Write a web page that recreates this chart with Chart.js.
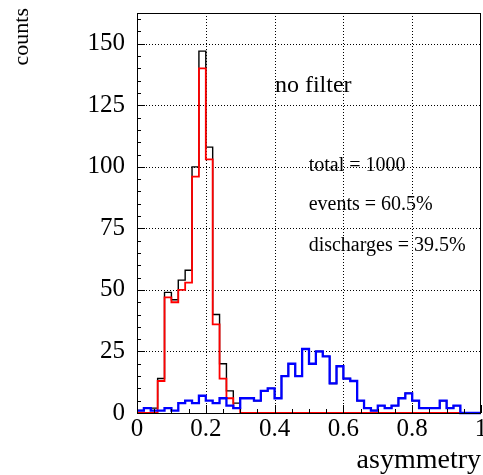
<!DOCTYPE html>
<html>
<head>
<meta charset="utf-8">
<script src="https://cdn.jsdelivr.net/npm/chart.js@4"></script>
<style>
  html, body { margin: 0; padding: 0; background: #fff; }
  #wrap { width: 483px; height: 475px; }
</style>
</head>
<body>
<div id="wrap"><canvas id="myChart"></canvas></div>
<script>
// bin edges of the asymmetry histogram (50 bins)
const binEdges = [
  0.00, 0.02, 0.04, 0.06, 0.08, 0.10, 0.12, 0.14, 0.16, 0.18,
  0.20, 0.22, 0.24, 0.26, 0.28, 0.30, 0.32, 0.34, 0.36, 0.38,
  0.40, 0.42, 0.44, 0.46, 0.48, 0.50, 0.52, 0.54, 0.56, 0.58,
  0.60, 0.62, 0.64, 0.66, 0.68, 0.70, 0.72, 0.74, 0.76, 0.78,
  0.80, 0.82, 0.84, 0.86, 0.88, 0.90, 0.92, 0.94, 0.96, 0.98, 1.00,
];
const totalCounts = [
  1, 2, 2, 14, 49, 46, 54, 58, 100, 147,
  108, 40, 20, 9, 4, 6, 6, 5, 9, 10,
  6, 15, 20, 15, 26, 20, 25, 23, 12, 19,
  14, 13, 5, 2, 1, 3, 2, 3, 6, 8,
  5, 2, 2, 2, 5, 2, 3, 0, 0, 0,
];
const eventCounts = [
  0, 0, 0, 13, 47, 45, 50, 53, 96, 140,
  103, 36, 14, 6, 2, 0, 0, 0, 0, 0,
  0, 0, 0, 0, 0, 0, 0, 0, 0, 0,
  0, 0, 0, 0, 0, 0, 0, 0, 0, 0,
  0, 0, 0, 0, 0, 0, 0, 0, 0, 0,
];
const dischargeCounts = [
  1, 2, 1, 1, 2, 1, 4, 5, 4, 7,
  5, 4, 6, 3, 2, 6, 6, 5, 9, 10,
  6, 15, 20, 15, 26, 20, 25, 23, 12, 19,
  14, 13, 5, 2, 1, 3, 2, 3, 6, 8,
  5, 2, 2, 2, 5, 2, 3, 0, 0, 0,
];
const xTicks = [0, 0.2, 0.4, 0.6, 0.8, 1];
const yTicks = [0, 25, 50, 75, 100, 125, 150];
const infoLines = ["total = 1000", "events = 60.5%", "discharges = 39.5%"];

const serif = "'Liberation Serif', 'DejaVu Serif', serif";

// histogram outline: one point per left edge plus the closing right edge
const toSteps = (counts) => {
  const pts = counts.map((c, i) => ({ x: binEdges[i], y: c }));
  pts.push({ x: binEdges[counts.length], y: counts[counts.length - 1] });
  return pts;
};

const histLine = (counts, color, width) => ({
  data: toSteps(counts),
  borderColor: color,
  borderWidth: width,
  stepped: "before",
  pointRadius: 0,
  fill: false,
  clip: false,
});

// no extra room for overhanging tick labels
const noOverhang = (s) => {
  s.paddingTop = 0;
  s.paddingBottom = 0;
  s.paddingLeft = 0;
  s.paddingRight = 0;
};

const rootFrame = {
  id: "rootFrame",
  beforeDatasetsDraw(chart) {
    const { ctx, chartArea: a, scales: { x, y } } = chart;
    ctx.save();
    ctx.strokeStyle = "#000";
    ctx.lineWidth = 1;
    ctx.setLineDash([1, 2]);
    ctx.beginPath();
    xTicks.slice(1, -1).forEach((v) => {
      const px = Math.round(x.getPixelForValue(v)) + 0.5;
      ctx.moveTo(px, a.top);
      ctx.lineTo(px, a.bottom);
    });
    yTicks.slice(1).forEach((v) => {
      const py = Math.round(y.getPixelForValue(v)) + 0.5;
      ctx.moveTo(a.left, py);
      ctx.lineTo(a.right, py);
    });
    ctx.stroke();
    ctx.restore();
  },
  afterDraw(chart) {
    const { ctx, chartArea: a, scales: { x, y } } = chart;
    ctx.save();
    ctx.strokeStyle = "#000";
    ctx.lineWidth = 1;
    ctx.beginPath();
    // minor / major ticks pointing inside
    for (let v = 0; v <= 160; v += 5) {
      const py = Math.round(y.getPixelForValue(v)) + 0.5;
      const len = v % 25 === 0 ? 8 : 4;
      ctx.moveTo(a.left, py);
      ctx.lineTo(a.left + len, py);
    }
    for (let k = 0; k <= 20; k++) {
      const v = k * 0.05;
      const px = Math.round(x.getPixelForValue(v)) + 0.5;
      const len = k % 4 === 0 ? 8 : 4;
      ctx.moveTo(px, a.bottom);
      ctx.lineTo(px, a.bottom - len);
    }
    ctx.stroke();
    ctx.strokeRect(a.left + 0.5, a.top + 0.5, a.right - a.left - 1, a.bottom - a.top);

    ctx.fillStyle = "#000";
    ctx.textBaseline = "alphabetic";
    // axis titles
    ctx.font = "28px " + serif;
    ctx.textAlign = "right";
    ctx.fillText("asymmetry", 481, 468);
    ctx.save();
    ctx.translate(28, 8);
    ctx.rotate(-Math.PI / 2);
    ctx.font = "22px " + serif;
    ctx.textAlign = "right";
    ctx.fillText("counts", 0, 0);
    ctx.restore();

    // labels inside the frame
    ctx.textAlign = "left";
    ctx.font = "24px " + serif;
    ctx.fillText("no filter", x.getPixelForValue(0.401), y.getPixelForValue(130.5));
    ctx.font = "20px " + serif;
    const rows = [98.2, 82.3, 66.0];
    infoLines.forEach((t, i) => {
      ctx.fillText(t, x.getPixelForValue(0.499), y.getPixelForValue(rows[i]));
    });
    ctx.restore();
  },
};

new Chart("myChart", {
  type: "line",
  data: {
    datasets: [
      histLine(dischargeCounts, "#0000ff", 2.3),
      histLine(eventCounts, "#ff0000", 1.8),
      histLine(totalCounts, "#000000", 1.4),
    ],
  },
  options: {
    responsive: true,
    maintainAspectRatio: false,
    animation: false,
    layout: {
      autoPadding: false,
      padding: { top: 13, right: 2, left: 0, bottom: 0 },
    },
    plugins: {
      legend: { display: false },
      tooltip: { enabled: false },
    },
    scales: {
      x: {
        type: "linear",
        min: 0,
        max: 1,
        afterBuildTicks: (s) => { s.ticks = xTicks.map((v) => ({ value: v })); },
        afterFit: (s) => { s.height = 62; noOverhang(s); },
        grid: { display: false, drawTicks: false },
        border: { display: false },
        ticks: {
          color: "#000",
          padding: 1,
          maxRotation: 0,
          font: { family: serif, size: 25 },
          callback: (v) => String(v),
        },
      },
      y: {
        type: "linear",
        min: 0,
        max: 162.5,
        afterBuildTicks: (s) => { s.ticks = yTicks.map((v) => ({ value: v })); },
        afterFit: (s) => { s.width = 137; noOverhang(s); },
        grid: { display: false, drawTicks: false },
        border: { display: false },
        ticks: {
          color: "#000",
          padding: 12,
          font: { family: serif, size: 25 },
        },
      },
    },
  },
  plugins: [rootFrame],
});
</script>
</body>
</html>
